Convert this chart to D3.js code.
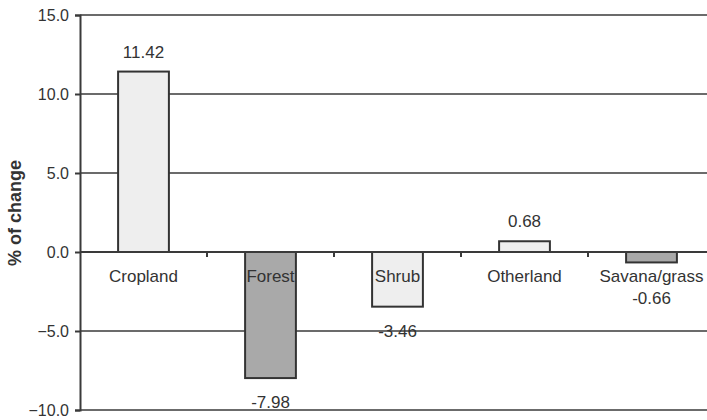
<!DOCTYPE html>
<html>
<head>
<meta charset="utf-8">
<script src="https://cdn.jsdelivr.net/npm/d3@7"></script>
<style>
  html, body { margin: 0; padding: 0; background: #fff; }
  svg { display: block; font-family: "Liberation Sans", Arial, sans-serif; }
</style>
</head>
<body>
<svg id="chart" width="707" height="420"></svg>
<script>
// Land-cover categories and their percentage change
const categories = ["Cropland", "Forest", "Shrub", "Otherland", "Savana/grass"];
const values = [11.42, -7.98, -3.46, 0.68, -0.66];
const valueLabels = ["11.42", "-7.98", "-3.46", "0.68", "-0.66"];
const fills = ["#eeeeee", "#a9a9a9", "#eeeeee", "#eeeeee", "#a9a9a9"];
const yTicks = [-10, -5, 0, 5, 10, 15];
const yTitle = "% of change";

const svg = d3.select("#chart");
const margin = { left: 80, top: 15, right: -8, bottom: 10 };
const W = 707, H = 420;

const x = d3.scaleBand()
  .domain(categories)
  .range([margin.left, W - margin.right])
  .paddingInner(0)
  .paddingOuter(0);

const y = d3.scaleLinear()
  .domain([-10, 15])
  .range([H - margin.bottom, margin.top]);

const ink = "#3a3a3a";
const labelSize = "17px";

// horizontal gridlines
svg.append("g")
  .selectAll("line")
  .data(yTicks)
  .join("line")
  .attr("x1", margin.left)
  .attr("x2", W)
  .attr("y1", d => y(d))
  .attr("y2", d => y(d))
  .attr("stroke", ink)
  .attr("stroke-width", 1.6);

// y axis with labels
const yAxis = d3.axisLeft(y)
  .tickValues(yTicks)
  .tickFormat(d3.format(".1f"))
  .tickSize(5)
  .tickPadding(6);

const gy = svg.append("g")
  .attr("transform", `translate(${margin.left},0)`)
  .call(yAxis);
gy.select(".domain").attr("stroke", ink).attr("stroke-width", 2);
gy.selectAll(".tick line").attr("stroke", ink).attr("stroke-width", 2);
gy.selectAll(".tick text")
  .attr("fill", "#333")
  .style("font-size", "16px")
  .style("font-family", "'Liberation Sans', Arial, sans-serif");

// bars
const bw = x.bandwidth() * 0.4;
svg.append("g")
  .selectAll("rect")
  .data(categories)
  .join("rect")
  .attr("x", (d) => x(d) + (x.bandwidth() - bw) / 2)
  .attr("width", bw)
  .attr("y", (d, i) => Math.min(y(values[i]), y(0)))
  .attr("height", (d, i) => Math.abs(y(values[i]) - y(0)))
  .attr("fill", (d, i) => fills[i])
  .attr("stroke", "#333")
  .attr("stroke-width", 2);

// zero line with category tick marks
svg.append("line")
  .attr("x1", margin.left).attr("x2", W)
  .attr("y1", y(0)).attr("y2", y(0))
  .attr("stroke", ink).attr("stroke-width", 2.2);

svg.append("g")
  .selectAll("line")
  .data(categories.slice(1))
  .join("line")
  .attr("x1", d => x(d)).attr("x2", d => x(d))
  .attr("y1", y(0)).attr("y2", y(0) + 5)
  .attr("stroke", ink).attr("stroke-width", 2);

// category labels just below zero line
svg.append("g")
  .selectAll("text")
  .data(categories)
  .join("text")
  .attr("x", d => x(d) + x.bandwidth() / 2)
  .attr("y", y(0) + 30)
  .attr("text-anchor", "middle")
  .attr("fill", "#333")
  .style("font-size", labelSize)
  .text(d => d);

// value labels
svg.append("g")
  .selectAll("text")
  .data(categories)
  .join("text")
  .attr("x", d => x(d) + x.bandwidth() / 2)
  .attr("y", (d, i) => {
    const v = values[i];
    if (v >= 0) return y(v) - 14;
    return Math.max(y(v) + 30, y(0) + 52);
  })
  .attr("text-anchor", "middle")
  .attr("fill", "#333")
  .style("font-size", labelSize)
  .text((d, i) => valueLabels[i]);

// y axis title
svg.append("text")
  .attr("transform", "translate(21,213) rotate(-90)")
  .attr("text-anchor", "middle")
  .attr("fill", "#333")
  .style("font-size", "18px")
  .style("font-weight", "bold")
  .text(yTitle);
</script>
</body>
</html>
